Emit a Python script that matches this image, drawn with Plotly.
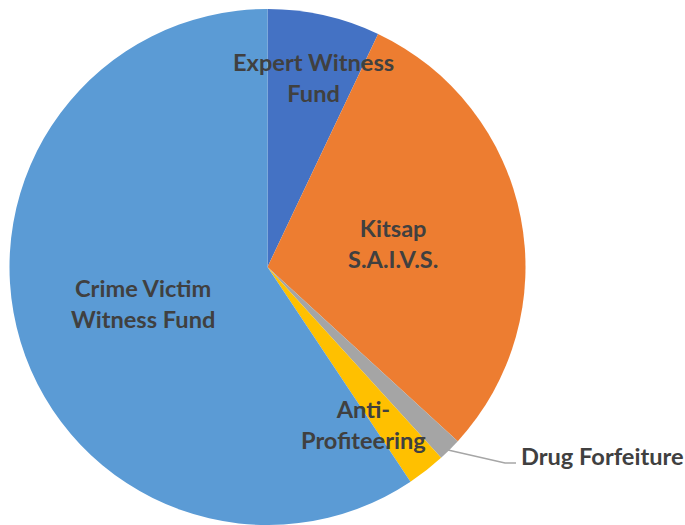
import plotly.graph_objects as go

# ---- data ----
categories = ["Expert Witness Fund", "Kitsap S.A.I.V.S.", "Drug Forfeiture",
              "Anti-Profiteering", "Crime Victim Witness Fund"]
shares = [7.05, 29.75, 1.45, 2.4, 59.35]
label_texts = ["Expert Witness<br>Fund", "Kitsap<br>S.A.I.V.S.", "Drug Forfeiture",
               "Anti-<br>Profiteering", "Crime Victim<br>Witness Fund"]

colors = ["#4472C4", "#ED7D31", "#A5A5A5", "#FFC000", "#5B9BD5"]

W, H = 685, 525

fig = go.Figure(go.Pie(
    labels=categories,
    values=shares,
    sort=False,
    direction="clockwise",
    rotation=0,
    marker=dict(colors=colors, line=dict(width=0)),
    textinfo="none",
    hoverinfo="label+percent",
    showlegend=False,
    domain=dict(x=[9.5 / W, 525.5 / W], y=[0.0, 516 / H]),
))

# label placement (pixel centres, converted to paper coords)
label_pos = [(313, 77.5, "center"), (393, 243, "center"), (519, 456, "left"),
             (363, 424.5, "center"), (143, 303, "center")]
font = dict(family="Lato", size=23.6, color="#404040")
for txt, (px, py, anchor) in zip(label_texts, label_pos):
    fig.add_annotation(
        x=px / W, y=1 - py / H, xref="paper", yref="paper",
        text="<b>" + txt + "</b>", showarrow=False,
        xanchor=anchor, yanchor="middle", align="center", font=font,
    )

# leader line for Drug Forfeiture
pts = [(448, 450), (505, 463), (516, 463)]
path = "M " + " L ".join(f"{x / W} {1 - y / H}" for x, y in pts)
fig.add_shape(type="path", path=path, xref="paper", yref="paper",
              line=dict(color="#A6A6A6", width=1.5))

fig.update_layout(
    width=W, height=H,
    margin=dict(l=0, r=0, t=0, b=0),
    paper_bgcolor="white", plot_bgcolor="white",
)

fig.write_html("out.html",
               config={"displayModeBar": False},
               post_script="document.body.style.margin='0';document.body.style.overflow='hidden';")
